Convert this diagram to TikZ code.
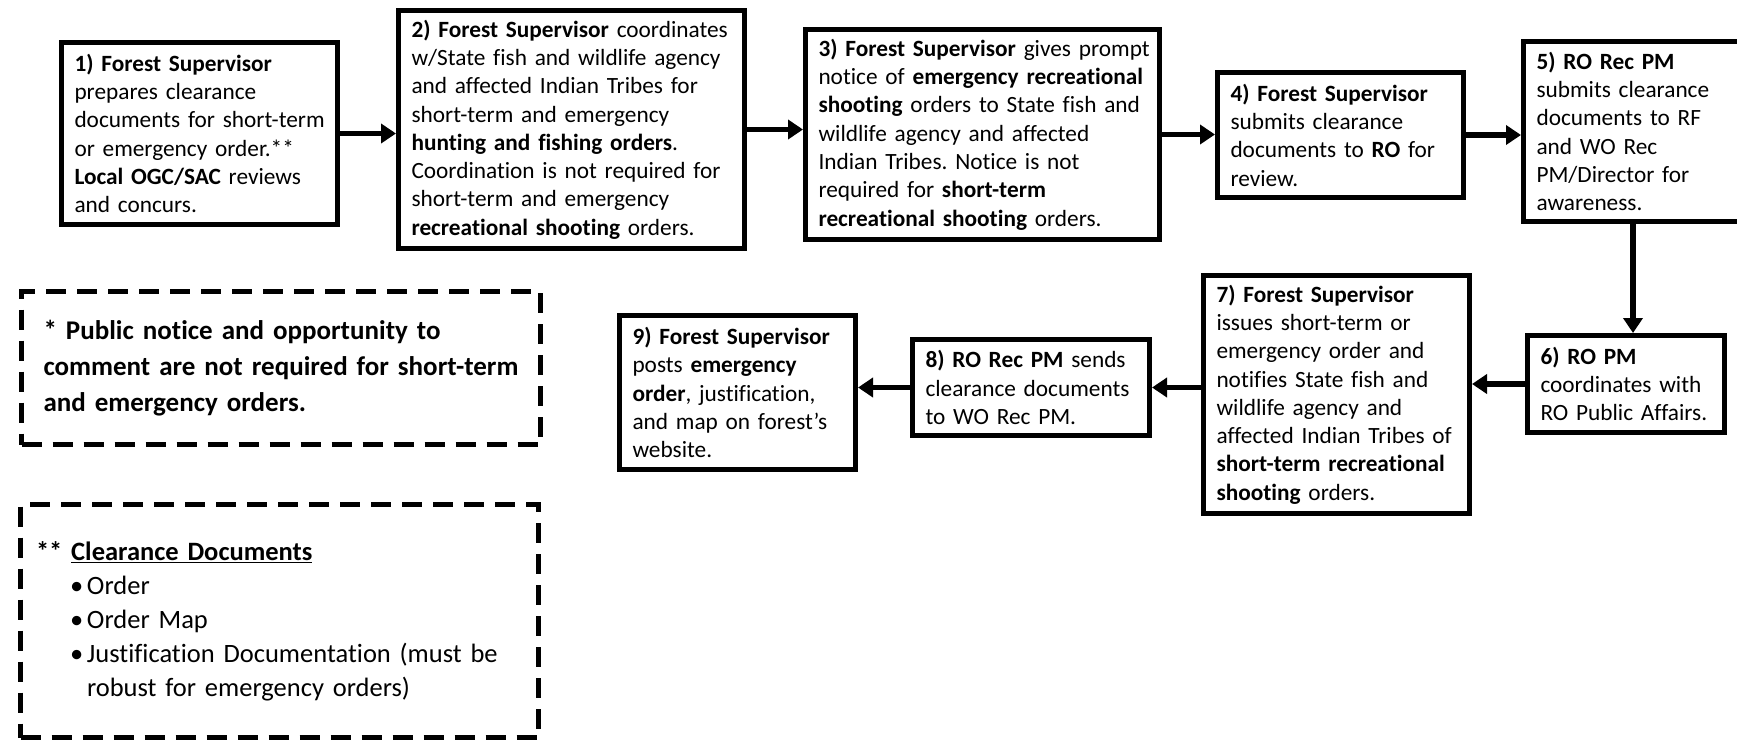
\documentclass[tikz,border=0pt]{standalone}
\usepackage{fontspec}
\setmainfont{Carlito}[Ligatures=NoCommon]
\usetikzlibrary{arrows.meta}
\frenchspacing
\begin{document}
\begin{tikzpicture}[x=1pt,y=-1pt,
  stepbox/.style={draw=black, line width=5pt, rectangle, inner xsep=13pt, inner ysep=0pt,
    align=left, font=\fontsize{23.3}{28.3}\selectfont\frenchspacing, fill=white},
  notebox/.style={draw=black, line width=5pt, dash pattern=on 20pt off 11pt, rectangle,
    inner ysep=0pt, align=left},
  arr/.style={line width=5.5pt, -{Triangle[length=15pt,width=19pt]}}
]
\useasboundingbox[fill=white] (0,0) rectangle (1737,745);

\node[stepbox, minimum width=276pt, minimum height=182pt, text width=250pt] (n1) at (199.5,133.5)
 {\mbox{\textbf{1) Forest Supervisor}}\\
  \mbox{prepares clearance}\\
  \mbox{documents for short-term}\\
  \mbox{or emergency order.**}\\
  \mbox{\textbf{Local OGC/SAC} reviews}\\
  \mbox{and concurs.}};

\node[stepbox, minimum width=346pt, minimum height=238pt, text width=320pt] (n2) at (571.5,129.5)
 {\mbox{\textbf{2) Forest Supervisor} coordinates}\\
  \mbox{w/State fish and wildlife agency}\\
  \mbox{and affected Indian Tribes for}\\
  \mbox{short-term and emergency}\\
  \mbox{\textbf{hunting and fishing orders}.}\\
  \mbox{Coordination is not required for}\\
  \mbox{short-term and emergency}\\
  \mbox{\textbf{recreational shooting} orders.}};

\node[stepbox, minimum width=354pt, minimum height=210pt, text width=328pt] (n3) at (982.5,134.5)
 {\mbox{\textbf{3) Forest Supervisor} gives prompt}\\
  \mbox{notice of \textbf{emergency recreational}}\\
  \mbox{\textbf{shooting} orders to State fish and}\\
  \mbox{wildlife agency and affected}\\
  \mbox{Indian Tribes. Notice is not}\\
  \mbox{required for \textbf{short-term}}\\
  \mbox{\textbf{recreational shooting} orders.}};

\node[stepbox, minimum width=246pt, minimum height=125pt, text width=220pt] (n4) at (1340.5,135)
 {\mbox{\textbf{4) Forest Supervisor}}\\
  \mbox{submits clearance}\\
  \mbox{documents to \textbf{RO} for}\\
  \mbox{review.}};

\node[stepbox, minimum width=219pt, minimum height=180pt, text width=193pt] (n5) at (1633,131.5)
 {\mbox{\textbf{5) RO Rec PM}}\\
  \mbox{submits clearance}\\
  \mbox{documents to RF}\\
  \mbox{and WO Rec}\\
  \mbox{PM/Director for}\\
  \mbox{awareness.}};

\node[stepbox, minimum width=197pt, minimum height=97pt, text width=171pt] (n6) at (1626,384)
 {\mbox{\textbf{6) RO PM}}\\
  \mbox{coordinates with}\\
  \mbox{RO Public Affairs.}};

\node[stepbox, minimum width=266pt, minimum height=238pt, text width=240pt] (n7) at (1336.5,394.5)
 {\mbox{\textbf{7) Forest Supervisor}}\\
  \mbox{issues short-term or}\\
  \mbox{emergency order and}\\
  \mbox{notifies State fish and}\\
  \mbox{wildlife agency and}\\
  \mbox{affected Indian Tribes of}\\
  \mbox{\textbf{short-term recreational}}\\
  \mbox{\textbf{shooting} orders.}};

\node[stepbox, minimum width=237pt, minimum height=96pt, text width=211pt] (n8) at (1031,387.5)
 {\mbox{\textbf{8) RO Rec PM} sends}\\
  \mbox{clearance documents}\\
  \mbox{to WO Rec PM.}};

\node[stepbox, minimum width=236pt, minimum height=154pt, text width=210pt] (n9) at (737.5,392.5)
 {\mbox{\textbf{9) Forest Supervisor}}\\
  \mbox{posts \textbf{emergency}}\\
  \mbox{\textbf{order}, justification,}\\
  \mbox{and map on forest’s}\\
  \mbox{website.}};

\node[notebox, inner xsep=22pt, minimum width=519pt, minimum height=153pt, text width=475pt,
  font=\fontsize{27}{36}\selectfont\bfseries] (nA) at (281,368)
 {\mbox{* Public notice and opportunity to}\\
  \mbox{comment are not required for short-term}\\
  \mbox{and emergency orders.}};

\node[notebox, inner xsep=15.5pt, minimum width=518pt, minimum height=233pt, text width=487pt,
  font=\fontsize{26.5}{34}\selectfont] (nB) at (279.5,621)
 {\mbox{\bfseries **\ \underline{Clearance Documents}}\\
  \mbox{\hspace*{34pt}\makebox[17pt][l]{\textbullet}Order}\\
  \mbox{\hspace*{34pt}\makebox[17pt][l]{\textbullet}Order Map}\\
  \mbox{\hspace*{34pt}\makebox[17pt][l]{\textbullet}Justification Documentation (must be}\\
  \mbox{\hspace*{51pt}robust for emergency orders)}};

\draw[arr] (n1.east) -- (n1.east -| n2.west);
\draw[arr] (n2.east) -- (n2.east -| n3.west);
\draw[arr] (n3.east) -- (n3.east -| n4.west);
\draw[arr] (n4.east) -- (n4.east -| n5.west);
\draw[arr] (n5.south) -- (n5.south |- n6.north);
\draw[arr] (n6.west) -- (n6.west -| n7.east);
\draw[arr] (n8.east -| n7.west) -- (n8.east);
\draw[arr] (n8.west) -- (n8.west -| n9.east);
\end{tikzpicture}
\end{document}
